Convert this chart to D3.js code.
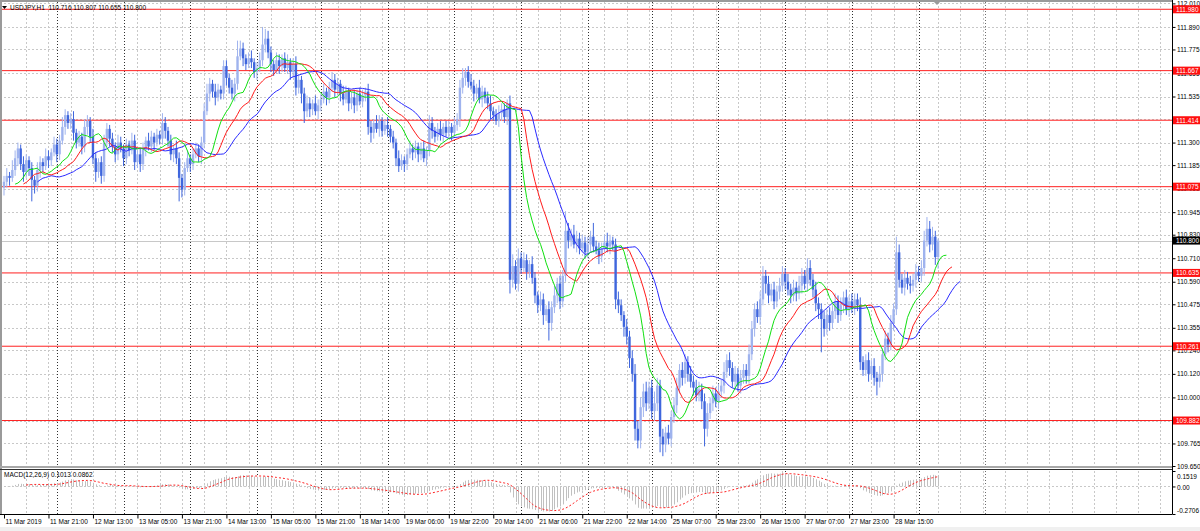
<!DOCTYPE html>
<html><head><meta charset="utf-8">
<script src="https://cdn.jsdelivr.net/npm/d3@7"></script>
<style>
body{margin:0;background:#fff}
svg{display:block}
text{font-family:"Liberation Sans",Arial,sans-serif;font-size:6.5px;fill:#000}
</style>
</head><body><svg id="c" width="1200" height="531"></svg>
<script>
// ---------------- data ----------------
const symbolTitle = "USDJPY,H1";
const lastOHLC = ["110.716", "110.807", "110.655", "110.800"];
const firstOpen = 111.07;
const closes = [
111.10,111.13,111.12,111.16,111.22,111.27,111.19,111.15,111.21,111.17,
111.11,111.08,111.16,111.20,111.18,111.23,111.21,111.25,111.29,111.24,
111.31,111.38,111.44,111.40,111.42,111.35,111.30,111.33,111.28,111.38,
111.41,111.33,111.22,111.15,111.20,111.13,111.30,111.37,111.32,111.28,
111.24,111.30,111.27,111.22,111.29,111.26,111.31,111.20,111.24,111.19,
111.27,111.31,111.28,111.33,111.30,111.34,111.32,111.40,111.36,111.31,
111.24,111.27,111.22,111.12,111.06,111.17,111.22,111.19,111.24,111.27,
111.23,111.30,111.46,111.55,111.60,111.56,111.53,111.57,111.55,111.69,
111.63,111.58,111.55,111.60,111.74,111.78,111.73,111.70,111.73,111.71,
111.66,111.68,111.72,111.80,111.83,111.76,111.70,111.67,111.72,111.69,
111.73,111.68,111.71,111.66,111.70,111.58,111.62,111.55,111.46,111.50,
111.47,111.50,111.46,111.49,111.52,111.56,111.53,111.58,111.62,111.57,
111.60,111.55,111.52,111.56,111.50,111.53,111.49,111.55,111.51,111.54,
111.56,111.38,111.35,111.40,111.37,111.41,111.36,111.39,111.37,111.33,
111.30,111.22,111.18,111.21,111.19,111.24,111.27,111.25,111.28,111.24,
111.27,111.22,111.26,111.40,111.36,111.33,111.37,111.34,111.38,111.35,
111.38,111.35,111.39,111.42,111.58,111.63,111.66,111.61,111.59,111.55,
111.58,111.52,111.56,111.53,111.50,111.46,111.44,111.41,111.45,111.47,
111.43,111.50,110.60,110.67,110.58,110.71,110.66,110.70,110.64,110.68,
110.61,110.52,110.47,110.50,110.42,110.45,110.38,110.46,110.52,110.58,
110.49,110.62,110.85,110.80,110.83,110.78,110.81,110.76,110.79,110.74,
110.78,110.82,110.77,110.75,110.72,110.76,110.79,110.77,110.80,110.78,
110.50,110.47,110.42,110.36,110.31,110.20,110.12,109.84,109.78,109.95,
110.03,109.97,110.05,109.93,109.97,110.06,109.80,109.76,109.82,109.79,
109.90,109.96,110.05,110.14,110.10,110.18,110.12,110.08,110.05,110.01,
110.04,109.98,109.84,109.92,109.97,110.02,109.98,110.03,110.06,110.13,
110.19,110.15,110.08,110.12,110.06,110.10,110.14,110.11,110.22,110.35,
110.45,110.41,110.50,110.62,110.58,110.52,110.55,110.49,110.54,110.57,
110.63,110.59,110.55,110.52,110.56,110.53,110.57,110.62,110.58,110.66,
110.60,110.55,110.48,110.45,110.40,110.35,110.42,110.38,110.44,110.49,
110.42,110.47,110.51,110.45,110.49,110.46,110.50,110.47,110.18,110.14,
110.19,110.12,110.16,110.10,110.08,110.12,110.22,110.30,110.27,110.38,
110.45,110.74,110.60,110.56,110.61,110.58,110.57,110.60,110.64,110.62,
110.66,110.80,110.86,110.78,110.82,110.716,110.80
];
// wick lengths in pips (0.01)
const wickUp = [
3,4,2,5,4,3,2,4,3,2, 3,2,4,3,2,4,3,2,4,3, 3,5,3,2,3,4,2,3,2,4, 3,2,4,3,2,3,4,3,2,3,
2,4,3,2,3,2,4,3,2,3, 3,2,4,3,2,3,2,5,3,2, 3,2,4,3,2,3,4,2,3,3, 2,3,4,5,3,2,4,3,2,3,
3,2,4,3,8,4,3,2,3,4, 2,3,4,9,5,4,3,2,4,3, 2,3,4,2,3,4,3,2,3,4, 3,2,4,3,3,4,2,3,4,3,
3,2,4,3,2,3,4,2,3,3, 2,4,3,2,4,3,2,3,4,2, 3,2,4,3,2,3,4,2,3,2, 3,4,2,4,3,2,3,4,2,3,
3,2,4,3,4,5,2,3,4,3, 2,4,3,2,3,4,2,3,4,3, 3,2,4,6,3,5,3,4,3,2, 4,3,2,4,3,2,4,3,5,3,
4,3,10,4,3,5,4,3,4,3, 4,3,7,3,4,3,4,5,3,2, 3,4,3,2,4,3,4,5,4,5, 4,5,3,4,6,4,3,4,3,4,
3,4,5,3,4,4,3,4,3,4, 4,3,4,5,3,4,3,4,3,5, 3,4,3,4,3,4,3,3,5,4, 3,4,4,5,3,4,3,4,3,4,
4,3,4,3,4,3,5,4,3,5, 4,3,4,3,3,4,3,4,3,4, 3,4,3,4,3,4,3,3,4,3, 3,4,3,4,3,4,3,4,3,4,
3,8,4,3,4,3,4,3,4,3, 4,5,6,4,5,3,1
];
const wickDown = [
4,3,4,2,3,4,3,5,3,4, 11,4,3,4,3,2,4,3,2,4, 3,2,4,3,3,4,3,2,4,3, 4,3,3,5,3,4,3,2,4,3,
4,3,2,4,3,3,2,4,3,4, 3,4,2,3,4,2,3,3,4,3, 3,4,3,12,4,3,2,4,3,2, 3,4,3,2,4,3,4,2,3,3,
4,3,3,4,3,2,4,3,2,3, 3,4,2,3,4,3,4,3,2,4, 3,2,3,4,3,4,3,5,6,3, 4,3,2,4,3,2,4,3,2,4,
3,4,3,2,4,3,4,3,2,3, 3,4,5,3,2,4,3,2,4,3, 3,4,3,2,4,3,2,4,3,4, 3,2,4,3,4,3,2,3,4,2,
3,4,2,3,4,3,4,3,2,4, 3,2,4,3,3,4,3,2,3,4, 3,4,7,4,3,4,3,2,4,3, 3,4,4,3,5,3,9,4,3,4,
4,3,3,4,3,2,4,3,2,3, 3,4,3,2,4,3,2,3,4,3, 5,4,3,5,4,5,4,6,4,4, 5,4,3,4,5,4,8,6,4,3,
4,3,4,3,4,3,4,3,4,3, 3,4,9,4,3,4,3,4,3,4, 3,4,3,4,3,4,3,4,4,3, 4,3,4,3,5,4,3,4,3,4,
3,4,3,4,3,4,3,4,3,4, 3,4,4,5,17,4,3,4,3,4, 4,3,4,3,4,3,4,3,4,3, 3,4,3,4,7,3,4,3,4,3,
4,3,4,3,4,3,4,3,4,3, 3,4,3,4,3,4,6
];
const priceTicks = [112.010,111.890,111.775,111.655,111.535,111.420,111.300,111.185,111.065,
  110.945,110.830,110.710,110.590,110.475,110.355,110.240,110.120,110.000,109.880,109.765,109.650];
const levels = [111.980,111.667,111.414,111.075,110.635,110.261,109.882];
const currentPrice = 110.800;
const timeLabelIdx = [0,16,32,48,64,80,96,112,128,144,160,176,192,208,224,240,256,272,288,304,320];
const timeLabels = ["11 Mar 2019","11 Mar 21:00","12 Mar 13:00","13 Mar 05:00","13 Mar 21:00",
  "14 Mar 13:00","15 Mar 05:00","15 Mar 21:00","18 Mar 14:00","19 Mar 06:00","19 Mar 22:00",
  "20 Mar 14:00","21 Mar 06:00","21 Mar 22:00","22 Mar 14:00","25 Mar 07:00","25 Mar 23:00",
  "26 Mar 15:00","27 Mar 07:00","27 Mar 23:00","28 Mar 15:00"];
const daySepIdx = [19,43,67,91,114,138,162,186,210,233,257,281,305,329];
const shiftMarkIdx = 353;
const macdTicks = [0.1519, 0, -0.2706];
const macdTickLabels = ["0.1519","0.00","-0.2706"];
const macdLabel = "MACD(12,26,9) 0.1013 0.0862";
// Alligator: [period, shift]
const jaw = [13, 8], teeth = [8, 5], lips = [5, 3];

// ---------------- layout ----------------
const W = 1200, H = 531;
const plotR = 1172, mainTop = 2, mainBot = 466, macdTop = 471, macdBot = 514;
const svg = d3.select("#c");
const n = closes.length;
const x = d3.scaleLinear().domain([0, n - 1]).range([4, 4 + (n - 1) * 2.78]);
const y = d3.scaleLinear().domain([109.65, 112.01]).range([466, 3.4]);
const ym = d3.scaleLinear().domain([macdTicks[2], macdTicks[0]]).range([macdBot, macdTop]);

const opens = closes.map((c, i) => i === 0 ? firstOpen : closes[i - 1]);
const highs = closes.map((c, i) => Math.max(opens[i], c) + wickUp[i] / 100);
const lows = closes.map((c, i) => Math.min(opens[i], c) - wickDown[i] / 100);

svg.append("rect").attr("width", W).attr("height", H).attr("fill", "#fff");
svg.append("rect").attr("x", 0).attr("y", 527).attr("width", W).attr("height", 4).attr("fill", "#f0f0f0");

// grid
const g = svg.append("g");
g.selectAll(".hg").data(priceTicks).join("line")
  .attr("x1", 0).attr("x2", plotR).attr("y1", d => Math.round(y(d)) + 0.5).attr("y2", d => Math.round(y(d)) + 0.5)
  .attr("stroke", "#c8c8c8").attr("stroke-dasharray", "2,2");
const vIdx = d3.range(8, 424, 8);
[[mainTop, mainBot], [macdTop, macdBot]].forEach(([a, b]) => {
  g.append("g").selectAll("line").data(vIdx).join("line")
    .attr("x1", d => Math.round(x(d)) + 0.5).attr("x2", d => Math.round(x(d)) + 0.5)
    .attr("y1", a).attr("y2", b).attr("stroke", "#c8c8c8").attr("stroke-dasharray", "2,2");
  g.append("g").selectAll("line").data(daySepIdx).join("line")
    .attr("x1", d => Math.round(x(d)) + 0.5).attr("x2", d => Math.round(x(d)) + 0.5)
    .attr("y1", a).attr("y2", b).attr("stroke", "#303030").attr("stroke-dasharray", "1,2");
  g.append("line").attr("x1", Math.round(x(shiftMarkIdx)) + 0.5).attr("x2", Math.round(x(shiftMarkIdx)) + 0.5)
    .attr("y1", a).attr("y2", b).attr("stroke", "#707070").attr("stroke-dasharray", "1,2");
});
g.append("line").attr("x1", 0).attr("x2", plotR).attr("y1", Math.round(ym(0)) + 0.5).attr("y2", Math.round(ym(0)) + 0.5)
  .attr("stroke", "#c8c8c8").attr("stroke-dasharray", "2,2");

// levels & current price line
svg.append("g").selectAll("line").data(levels).join("line")
  .attr("x1", 0).attr("x2", plotR).attr("y1", d => y(d)).attr("y2", d => y(d))
  .attr("stroke", "#ff2020").attr("stroke-width", 1);
svg.append("line").attr("x1", 0).attr("x2", plotR).attr("y1", Math.round(y(currentPrice)) + 0.5)
  .attr("y2", Math.round(y(currentPrice)) + 0.5).attr("stroke", "#c8c8c8");

// candles
const bullC = "#9fb3ee", bearC = "#3f66dd";
const cg = svg.append("g");
const idx = d3.range(n);
cg.selectAll("line").data(idx).join("line")
  .attr("x1", i => x(i)).attr("x2", i => x(i))
  .attr("y1", i => y(highs[i])).attr("y2", i => y(lows[i]))
  .attr("stroke", i => closes[i] >= opens[i] ? bullC : bearC).attr("stroke-width", 1);
cg.selectAll("rect").data(idx).join("rect")
  .attr("x", i => x(i) - 1.2).attr("width", 2.4)
  .attr("y", i => y(Math.max(opens[i], closes[i])))
  .attr("height", i => Math.max(1, Math.abs(y(opens[i]) - y(closes[i]))))
  .attr("fill", i => closes[i] >= opens[i] ? bullC : bearC);

// Alligator (SMMA of median price, shifted forward)
const median = highs.map((h, i) => (h + lows[i]) / 2);
function smma(src, p) {
  const out = []; let s = src[0];
  src.forEach((v, i) => { s = i === 0 ? v : (s * (p - 1) + v) / p; out.push(s); });
  return out;
}
function drawAlli([p, shift], color) {
  const vals = smma(median, p);
  const pts = vals.map((v, i) => [i + shift, v]).filter(d => d[0] >= p - 1);
  svg.append("path").datum(pts).attr("fill", "none").attr("stroke", color).attr("stroke-width", 1)
    .attr("d", d3.line().x(d => x(d[0])).y(d => y(d[1])).curve(d3.curveLinear));
}
drawAlli(jaw, "#2a2aff");
drawAlli(teeth, "#ff1a1a");
drawAlli(lips, "#10e010");

// MACD
function ema(src, p) { const k = 2 / (p + 1); let e = src[0]; return src.map((v, i) => (e = i === 0 ? v : e + k * (v - e))); }
const e12 = ema(closes, 12), e26 = ema(closes, 26);
const macd = closes.map((c, i) => e12[i] - e26[i]);
const signal = macd.map((m, i) => i < 8 ? null : d3.mean(macd.slice(i - 8, i + 1)));
const clampM = v => Math.max(macdTicks[2], Math.min(macdTicks[0], v));
svg.append("g").selectAll("line").data(idx).join("line")
  .attr("x1", i => Math.round(x(i)) + 0.5).attr("x2", i => Math.round(x(i)) + 0.5)
  .attr("y1", ym(0)).attr("y2", i => ym(clampM(macd[i])))
  .attr("stroke", "#c0c0c0").attr("stroke-width", 1);
svg.append("path").datum(idx.filter(i => signal[i] !== null)).attr("fill", "none")
  .attr("stroke", "#ff2020").attr("stroke-width", 1).attr("stroke-dasharray", "2,2")
  .attr("d", d3.line().x(i => x(i)).y(i => ym(clampM(signal[i]))));

// frames
svg.append("rect").attr("x", 0).attr("y", 0).attr("width", 2).attr("height", macdBot).attr("fill", "#9a9a9a");
svg.append("rect").attr("x", 0).attr("y", 0).attr("width", plotR).attr("height", 2).attr("fill", "#9a9a9a");
svg.append("rect").attr("x", 0).attr("y", 466).attr("width", plotR).attr("height", 2).attr("fill", "#a8a8a8");
svg.append("line").attr("x1", 0).attr("x2", plotR + 0.5).attr("y1", 469.5).attr("y2", 469.5).attr("stroke", "#303030");
svg.append("line").attr("x1", plotR + 0.5).attr("x2", plotR + 0.5).attr("y1", 0).attr("y2", macdBot).attr("stroke", "#000");
svg.append("line").attr("x1", 0).attr("x2", plotR + 0.5).attr("y1", macdBot + 0.5).attr("y2", macdBot + 0.5).attr("stroke", "#000");

// price axis
const ya = svg.append("g").attr("transform", `translate(${plotR + 0.5},0)`)
  .call(d3.axisRight(y).tickValues(priceTicks).tickFormat(d3.format(".3f")).tickSize(3).tickPadding(1.5));
ya.select(".domain").remove();
ya.selectAll("line").attr("stroke", "#000");
ya.selectAll("text").attr("font-size", null).attr("font-family", null).attr("fill", "#000");

// level boxes
const lb = svg.append("g").selectAll("g").data(levels).join("g").attr("transform", d => `translate(${plotR + 1},${y(d)})`);
lb.append("rect").attr("x", 0).attr("y", -4).attr("width", 28).attr("height", 8).attr("fill", "#ff1010");
lb.append("text").attr("x", 3).attr("dy", "0.35em").style("fill", "#fff").text(d => d3.format(".3f")(d));
const cp = svg.append("g").attr("transform", `translate(${plotR + 1},${y(currentPrice)})`);
cp.append("rect").attr("x", 0).attr("y", -4).attr("width", 28).attr("height", 8).attr("fill", "#000");
cp.append("text").attr("x", 3).attr("dy", "0.35em").style("fill", "#fff").text(d3.format(".3f")(currentPrice));

// MACD axis
const ma = svg.append("g").attr("transform", `translate(${plotR + 0.5},0)`)
  .call(d3.axisRight(ym).tickValues(macdTicks).tickFormat((d, i) => macdTickLabels[i]).tickSize(3).tickPadding(1.5));
ma.select(".domain").remove();
ma.selectAll("line").attr("stroke", "#000");
ma.selectAll("text").attr("font-size", null).attr("font-family", null).attr("fill", "#000")
  .attr("dy", (d, i) => i === 0 ? "1.1em" : (i === 2 ? "-0.3em" : "0.4em"));

// time axis
const xa = svg.append("g").attr("transform", `translate(0,${macdBot + 0.5})`)
  .call(d3.axisBottom(x).tickValues(timeLabelIdx).tickFormat((d, i) => timeLabels[i]).tickSize(4).tickPadding(2));
xa.select(".domain").remove();
xa.selectAll("line").attr("stroke", "#000");
xa.selectAll("text").attr("font-size", null).attr("font-family", null).attr("fill", "#000")
  .attr("text-anchor", "start").attr("x", 1).attr("y", 4).attr("dy", "0.8em");

// header
svg.append("path").attr("d", "M2,6 L7,6 L4.5,9 Z").attr("fill", "#000");
svg.append("text").attr("x", 10).attr("y", 10).attr("xml:space", "preserve")
  .style("white-space", "pre").text(symbolTitle + "  " + lastOHLC.join(" "));
svg.append("text").attr("x", 4).attr("y", 476.5).text(macdLabel);
svg.append("path").attr("d", "M934,2 L940,2 L937,5 Z").attr("fill", "#9a9a9a");
</script>
</body></html>
